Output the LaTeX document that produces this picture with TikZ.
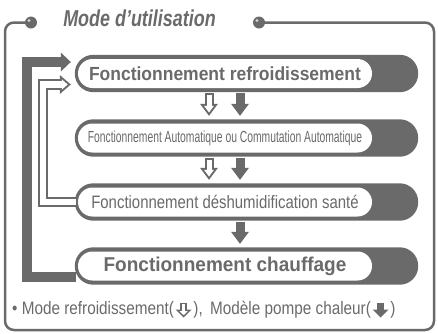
\documentclass[tikz,border=0pt]{standalone}
\usepackage{fontspec}
\setmainfont{Liberation Sans}
\usepackage{graphicx}
\usepackage{tikz}
\usetikzlibrary{arrows.meta,positioning,backgrounds}

\definecolor{ink}{RGB}{106,106,106}

\tikzset{
  pill/.style={rectangle, rounded corners=14.5pt, fill=white, text=ink,
    minimum width=294pt, minimum height=29pt, inner sep=0pt},
  band/.style={fill=ink, rounded corners=18.5pt},
  title/.style={text=ink, inner sep=0pt, font=\fontsize{23}{24}\selectfont\bfseries\itshape},
  legend/.style={text=ink, inner sep=0pt, font=\fontsize{18}{19}\selectfont},
  downfill/.style={ink, line width=9pt, -{Triangle[length=12pt,width=18pt,line width=0pt]}},
  downhollow/.style={downfill, postaction={draw=white, line width=5pt, shorten <=2pt,
    shorten >=3.3pt, -{Triangle[length=6.7pt,width=10pt,line width=0pt]}}},
  fatloop/.style={ink, line width=10pt, -{Triangle[length=10pt,width=19pt,line width=0pt]}},
  thinloop/.style={ink, line width=10.5pt, -{Triangle[length=11pt,width=19pt,line width=0pt]},
    postaction={draw=white, line width=6.5pt, shorten >=3.1pt,
    -{Triangle[length=5.9pt,width=10.3pt,line width=0pt]}}},
  smallfill/.style={ink, line width=7pt, -{Triangle[length=8pt,width=16pt,line width=0pt]}},
  smallhollow/.style={smallfill, postaction={draw=white, line width=3.4pt, shorten <=1.6pt,
    shorten >=2.3pt, -{Triangle[length=4.1pt,width=8.3pt,line width=0pt]}}}
}

\begin{document}
\begin{tikzpicture}[x=1pt,y=-1pt]
  \useasboundingbox (0,0) rectangle (438,333);

  % frame with the two balls
  \coordinate (ball1) at (31,22.5);
  \coordinate (ball2) at (259,22.5);
  \draw[ink, line width=2.5pt, rounded corners=9pt] (ball1) -- (5,22.5) -- (5,330)
    -- (434,330) -- (434,22.5) -- (ball2);
  \foreach \k in {ball1,ball2} {
    \fill[ink] (\k) circle (6pt);
    \fill[white!70!ink] ([shift={(-2pt,2pt)}]\k) circle (1.7pt);
  }
  \node[title] (title) at (139.5,18.5) {\scalebox{0.78}[1]{Mode d'utilisation}};

  % the four modes
  \node[pill, font=\fontsize{19}{20}\selectfont\bfseries] (b1) at (225,73.5)
    {\scalebox{0.92}[1]{Fonctionnement refroidissement}};
  \node[pill, font=\fontsize{16}{17}\selectfont] (b2) at (225,138)
    {\scalebox{0.645}[1]{Fonctionnement Automatique ou Commutation Automatique}};
  \node[pill, font=\fontsize{18}{19}\selectfont] (b3) at (225,202)
    {\scalebox{0.83}[1]{Fonctionnement déshumidification santé}};
  \node[pill, font=\fontsize{20}{21}\selectfont\bfseries] (b4) at (225,266)
    {\scalebox{0.95}[1]{Fonctionnement chauffage}};
  \begin{scope}[on background layer]
    \foreach \b in {b1,b2,b3,b4}
      \fill[band] ([xshift=-3pt,yshift=4pt]\b.north west) rectangle ([xshift=46pt,yshift=-4pt]\b.south east);
  \end{scope}

  % arrows between the modes
  \draw[downhollow] ([xshift=-16pt,yshift=-5pt]b1.south) -- ([xshift=-16pt,yshift=7.5pt]b2.north);
  \draw[downfill] ([xshift=15pt,yshift=-5pt]b1.south) -- ([xshift=15pt,yshift=7.5pt]b2.north);
  \draw[downhollow] ([xshift=-16pt,yshift=-5pt]b2.south) -- ([xshift=-16pt,yshift=7.5pt]b3.north);
  \draw[downfill] ([xshift=15pt,yshift=-5pt]b2.south) -- ([xshift=15pt,yshift=7.5pt]b3.north);
  \draw[downfill] ([xshift=15pt,yshift=-5pt]b3.south) -- ([xshift=15pt,yshift=7.5pt]b4.north);

  % loops back to the first mode
  \draw[fatloop] ([xshift=-2pt,yshift=-10.5pt]b4.west) -| ([xshift=-51pt,yshift=11.5pt]b1.west)
    -- ([xshift=-7pt,yshift=11.5pt]b1.west);
  \draw[thinloop] ([xshift=-2pt]b3.west) -| ([xshift=-35pt,yshift=-11pt]b1.west)
    -- ([xshift=-7pt,yshift=-11pt]b1.west);

  % legend
  \node[legend, anchor=west] (leg1) at (12,310) {\scalebox{0.85}[1]{\textbullet\ Mode refroidissement(}};
  \node[legend, right=19pt of leg1] (leg2) {\scalebox{0.85}[1]{),}};
  \node[legend, right=7pt of leg2] (leg3) {\scalebox{0.85}[1]{Modèle pompe chaleur(}};
  \node[legend, right=19pt of leg3] (leg4) {\scalebox{0.85}[1]{)}};
  \draw[smallhollow] ([xshift=9.5pt,yshift=7.5pt]leg1.east) -- ([xshift=9.5pt,yshift=-7.5pt]leg1.east);
  \draw[smallfill] ([xshift=9.5pt,yshift=7.5pt]leg3.east) -- ([xshift=9.5pt,yshift=-7.5pt]leg3.east);
\end{tikzpicture}
\end{document}
